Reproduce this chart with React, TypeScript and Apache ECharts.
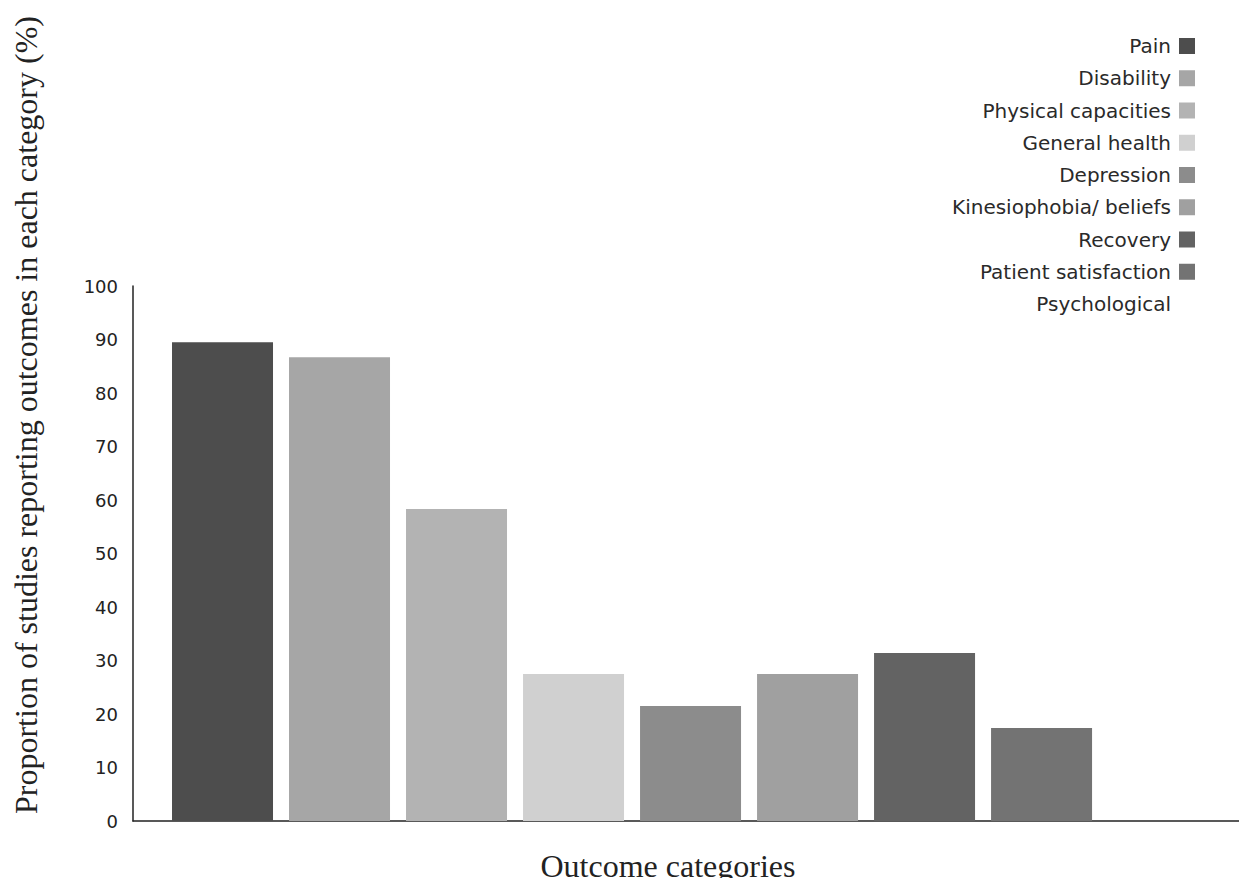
import React, { useEffect, useRef } from "react";
import * as echarts from "echarts";

// Outcome categories and the share of studies reporting each (%)
const categories = [
  "Pain",
  "Disability",
  "Physical capacities",
  "General health",
  "Depression",
  "Kinesiophobia/ beliefs",
  "Recovery",
  "Patient satisfaction",
  "Psychological",
];
const values = [89.5, 86.7, 58.3, 27.5, 21.5, 27.5, 31.4, 17.4, 0];
const colors = [
  "#4d4d4d",
  "#a6a6a6",
  "#b3b3b3",
  "#d0d0d0",
  "#8c8c8c",
  "#a0a0a0",
  "#636363",
  "#737373",
  "#ffffff",
];
const yTicks = [0, 10, 20, 30, 40, 50, 60, 70, 80, 90, 100];

const sansFont = "'DejaVu Sans', 'Open Sans', sans-serif";
const serifFont = "'Liberation Serif', 'DejaVu Serif', serif";

export default function App() {
  const ref = useRef<HTMLDivElement>(null);

  useEffect(() => {
    if (!ref.current) return;
    const chart = echarts.init(ref.current, undefined, { renderer: "svg" });

    const series = categories.map((name, i) => ({
      name,
      type: "bar",
      data: [[i, values[i]]],
      barWidth: 101,
      barGap: "-100%",
      itemStyle: { color: colors[i] },
    }));

    chart.setOption({
      animation: false,
      backgroundColor: "#ffffff",
      grid: { left: 133, right: 7, top: 286, bottom: 65, containLabel: false },
      legend: {
        orient: "vertical",
        right: 47,
        top: 31,
        padding: 5,
        align: "right",
        itemWidth: 16,
        itemHeight: 16,
        itemGap: 12.25,
        icon: "rect",
        selectedMode: false,
        data: categories,
        textStyle: {
          fontFamily: sansFont,
          fontSize: 20,
          color: "#2a2a2a",
          padding: [0, 3, 0, 0],
        },
      },
      xAxis: {
        type: "value",
        min: -0.765,
        max: 8.696,
        axisLine: { show: true, onZero: false, lineStyle: { color: "#222", width: 1.5 } },
        axisTick: { show: false },
        axisLabel: { show: false },
        splitLine: { show: false },
      },
      yAxis: {
        type: "value",
        min: yTicks[0],
        max: yTicks[yTicks.length - 1],
        interval: 10,
        axisLine: { show: true, onZero: false, lineStyle: { color: "#222", width: 1.5 } },
        axisTick: { show: false },
        splitLine: { show: false },
        axisLabel: {
          fontFamily: sansFont,
          fontSize: 18,
          color: "#222",
          margin: 15,
        },
      },
      graphic: [
        {
          type: "text",
          x: 26,
          y: 415,
          rotation: Math.PI / 2,
          style: {
            text: "Proportion of studies reporting outcomes in each category (%)",
            font: `32px ${serifFont}`,
            fill: "#222",
            align: "center",
            verticalAlign: "middle",
          },
        },
        {
          type: "text",
          x: 668,
          y: 866,
          style: {
            text: "Outcome categories",
            font: `32px ${serifFont}`,
            fill: "#222",
            align: "center",
            verticalAlign: "middle",
          },
        },
      ],
      series,
    });

    return () => chart.dispose();
  }, []);

  return <div ref={ref} style={{ width: 1247, height: 886, margin: -8 }} />;
}
